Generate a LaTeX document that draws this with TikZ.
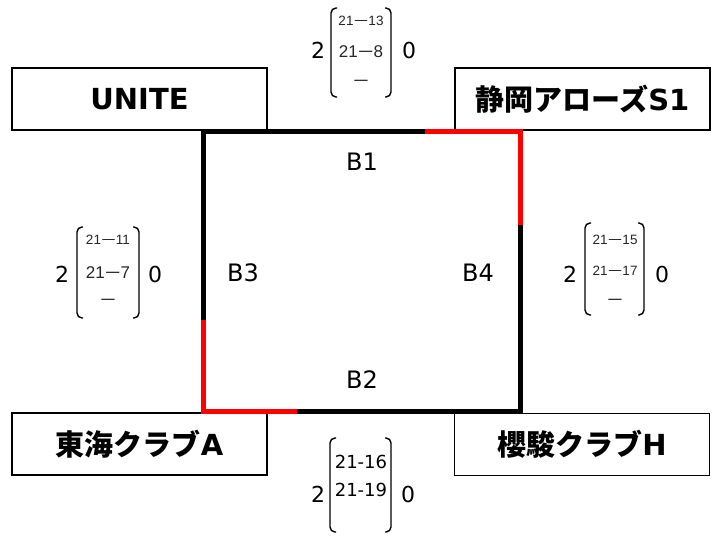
\documentclass[tikz,border=0pt]{standalone}
\usepackage{fontspec}
\usepackage{graphicx}
\setmainfont{DejaVu Sans}
\newfontfamily\jp{Noto Sans CJK JP}
\newfontfamily\lib{Liberation Sans}
\newcommand{\wdash}[1]{\scalebox{#1}[1]{−}}
\begin{document}
\begin{tikzpicture}[x=1pt,y=-1pt,
 team/.style={draw, line width=1.3pt, fill=white, minimum width=255pt, minimum height=62pt, inner sep=0pt, font=\fontsize{29}{30}\selectfont\bfseries},
 blabel/.style={font=\fontsize{24}{25}\selectfont, inner sep=0pt},
 setscore/.style={font=\fontsize{22}{23}\selectfont, inner sep=0pt},
 smallpt/.style={font=\lib\fontsize{13.5}{14}\selectfont, inner sep=0pt, text=black!85},
 midpt/.style={font=\lib\fontsize{17}{18}\selectfont, inner sep=0pt, text=black!85},
 bigpt/.style={font=\fontsize{18}{19}\selectfont, inner sep=0pt},
 side/.style={line width=5pt, black, line join=miter},
 win/.style={line width=5pt, red, line join=miter},
 bracket/.style={line width=1.4pt, rounded corners=5pt}
]
\useasboundingbox[fill=white] (0,0) rectangle (717,541);

% team boxes
\node[team] (unite) at (139.5,99) {UNITE};
\node[team] (shizuoka) at (582.5,99) {{\jp 静岡アローズ}S1};
\node[team] (tokai) at (139.5,444) {{\jp 東海クラブ}A};
\node[team] (oushun) at (582,444.5) {{\jp 櫻駿クラブ}H};

% square
\coordinate (c1) at (203,131);
\coordinate (c2) at (520,131);
\coordinate (c3) at (520,411);
\coordinate (c4) at (203,411);
\draw[side] (c1) -- (c2) -- (c3) -- (c4) -- cycle;
\coordinate (r1) at (425,131);
\coordinate (r2) at (520,225);
\coordinate (r3) at (203,320);
\coordinate (r4) at (297,411);
\draw[win] (r1) -- (c2) -- (r2);
\draw[win] (r3) -- (c4) -- (r4);

% match labels
\node[blabel] (b1) at (362,162) {B1};
\node[blabel] (b2) at (362,380) {B2};
\node[blabel] (b3) at (243,273) {B3};
\node[blabel] (b4) at (478,273) {B4};

% top score (B1)
\node[setscore] (ta) at (318,50) {2};
\node[setscore] (tb) at (409,50) {0};
\node[smallpt] (t1) at (361,21) {21\wdash{1.9}13};
\node[midpt] (t2) at (361,52) {21\wdash{1.6}8};
\node[midpt] (t3) at (361,83) {\wdash{1.6}};
\draw[bracket] (337,8) -- (331,8) -- (331,97) -- (337,97);
\draw[bracket] (385,8) -- (391,8) -- (391,97) -- (385,97);

% left score (B3)
\node[setscore] (la) at (62,274) {2};
\node[setscore] (lb) at (155,274) {0};
\node[smallpt] (l1) at (108,240) {21\wdash{1.9}11};
\node[midpt] (l2) at (108,273) {21\wdash{1.6}7};
\node[midpt] (l3) at (108,302) {\wdash{1.6}};
\draw[bracket] (83,227) -- (77,227) -- (77,318) -- (83,318);
\draw[bracket] (133,227) -- (139,227) -- (139,318) -- (133,318);

% right score (B4)
\node[setscore] (ra) at (570,274) {2};
\node[setscore] (rb) at (662,274) {0};
\node[smallpt] (q1) at (615,240) {21\wdash{1.9}15};
\node[smallpt] (q2) at (615,271) {21\wdash{1.9}17};
\node[midpt] (q3) at (615,302) {\wdash{1.6}};
\draw[bracket] (591,223) -- (585,223) -- (585,315) -- (591,315);
\draw[bracket] (638,223) -- (644,223) -- (644,315) -- (638,315);

% bottom score (B2)
\node[setscore] (ba) at (318,494) {2};
\node[setscore] (bb) at (408,494) {0};
\node[bigpt] (p1) at (361,462) {21-16};
\node[bigpt] (p2) at (361,490) {21-19};
\draw[bracket] (336,438) -- (330,438) -- (330,532) -- (336,532);
\draw[bracket] (385,438) -- (391,438) -- (391,532) -- (385,532);
\end{tikzpicture}
\end{document}
